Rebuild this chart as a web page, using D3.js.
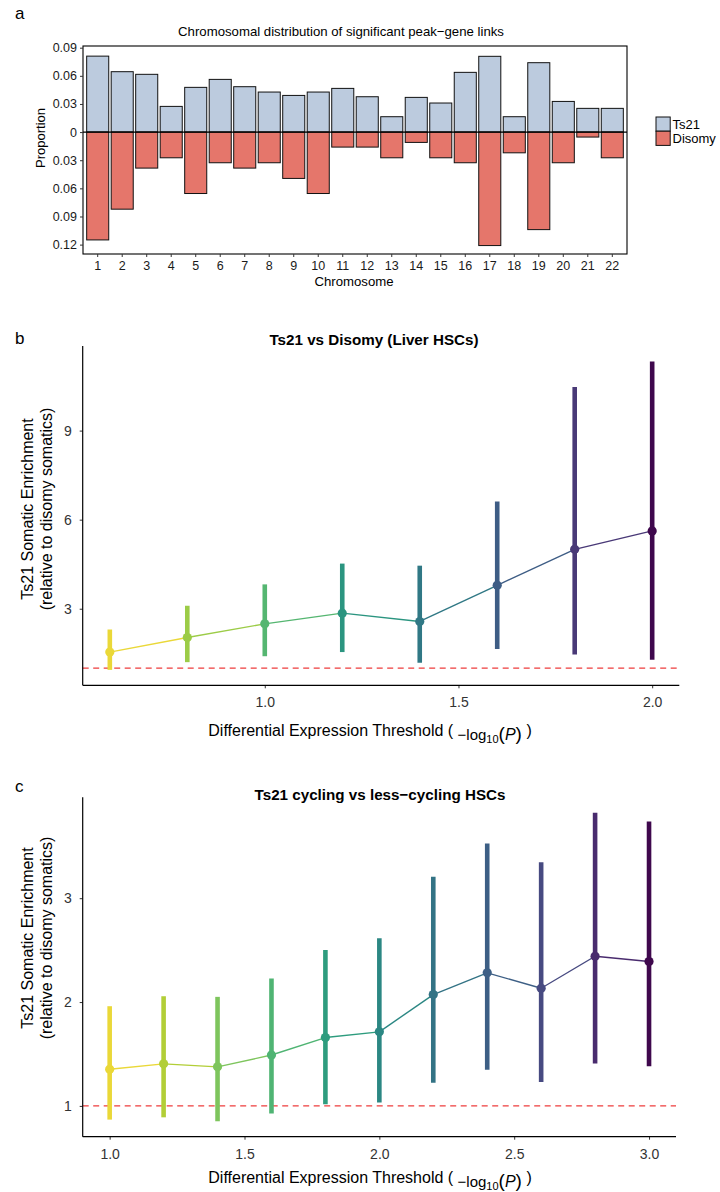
<!DOCTYPE html>
<html>
<head>
<meta charset="utf-8">
<script src="https://cdn.jsdelivr.net/npm/d3@7"></script>
<style>
  body { margin: 0; background: #fff; }
  svg { display: block; font-family: "Liberation Sans", Arial, Helvetica, sans-serif; }
</style>
</head>
<body>
<div id="wrapper"></div>
<script>
// a. chromosomal distribution of peak-gene links
const chromosomes = ["1", "2", "3", "4", "5", "6", "7", "8", "9", "10", "11",
                     "12", "13", "14", "15", "16", "17", "18", "19", "20", "21", "22"]
const ts21Prop = [0.081, 0.0644, 0.0616, 0.0274, 0.0477, 0.0562, 0.0484, 0.0427, 0.0391, 0.0427, 0.0466,
                  0.0377, 0.0164, 0.037, 0.031, 0.0637, 0.0808, 0.0164, 0.074, 0.0327, 0.0253, 0.0253]
const disomyProp = [0.115, 0.0822, 0.0384, 0.0274, 0.0655, 0.0327, 0.0384, 0.0327, 0.0494, 0.0655, 0.016,
                    0.016, 0.0274, 0.011, 0.0274, 0.0327, 0.121, 0.0221, 0.104, 0.0327, 0.0053, 0.0274]
const proportionTicks = [-0.12, -0.09, -0.06, -0.03, 0, 0.03, 0.06, 0.09]
const legendLabels = ["Ts21", "Disomy"]
const legendColors = ["#bccbde", "#e5766b"]

// b. Ts21 vs Disomy (Liver HSCs)
const thresholdsLiver = [0.6, 0.8, 1.0, 1.2, 1.4, 1.6, 1.8, 2.0]
const enrichLiver = [1.54, 2.03, 2.49, 2.85, 2.57, 3.79, 5.0, 5.62]
const lowerLiver = [0.94, 1.20, 1.40, 1.54, 1.18, 1.64, 1.46, 1.28]
const upperLiver = [2.30, 3.10, 3.82, 4.52, 4.45, 6.61, 10.47, 11.33]
const xTicksLiver = [1.0, 1.5, 2.0]
const yTicksLiver = [3, 6, 9]

// c. Ts21 cycling vs less-cycling HSCs
const thresholdsCycling = [1.0, 1.2, 1.4, 1.6, 1.8, 2.0, 2.2, 2.4, 2.6, 2.8, 3.0]
const enrichCycling = [1.353, 1.405, 1.376, 1.49, 1.658, 1.713, 2.072, 2.281, 2.133, 2.441, 2.39]
const lowerCycling = [0.868, 0.89, 0.852, 0.926, 1.015, 1.032, 1.222, 1.347, 1.231, 1.408, 1.381]
const upperCycling = [1.96, 2.056, 2.05, 2.226, 2.5, 2.615, 3.206, 3.527, 3.347, 3.823, 3.739]
const xTicksCycling = [1.0, 1.5, 2.0, 2.5, 3.0]
const yTicksCycling = [1, 2, 3]

const svg = d3.select("#wrapper")
  .append("svg")
  .attr("width", 720)
  .attr("height", 1192)

// ---------- panel a ----------
const aBox = { left: 83, right: 627, top: 46, bottom: 254 }

const xBand = d3.scaleBand()
  .domain(chromosomes)
  .range([aBox.left, aBox.right])
  .paddingInner(0.1)
  .paddingOuter(0.15)

const yProp = d3.scaleLinear()
  .domain([-0.130, 0.0918])
  .range([aBox.bottom, aBox.top])

const panelA = svg.append("g")

panelA.selectAll(".bar-ts21")
  .data(ts21Prop)
  .join("rect")
    .attr("class", "bar-ts21")
    .attr("x", (d, i) => xBand(chromosomes[i]))
    .attr("width", xBand.bandwidth())
    .attr("y", d => yProp(d))
    .attr("height", d => yProp(0) - yProp(d))
    .attr("fill", legendColors[0])
    .attr("stroke", "#111")
    .attr("stroke-width", 1)

panelA.selectAll(".bar-disomy")
  .data(disomyProp)
  .join("rect")
    .attr("class", "bar-disomy")
    .attr("x", (d, i) => xBand(chromosomes[i]))
    .attr("width", xBand.bandwidth())
    .attr("y", yProp(0))
    .attr("height", d => yProp(-d) - yProp(0))
    .attr("fill", legendColors[1])
    .attr("stroke", "#111")
    .attr("stroke-width", 1)

panelA.append("line")
  .attr("x1", aBox.left).attr("x2", aBox.right)
  .attr("y1", yProp(0)).attr("y2", yProp(0))
  .attr("stroke", "#000")
  .attr("stroke-width", 1.3)

panelA.append("rect")
  .attr("x", aBox.left).attr("y", aBox.top)
  .attr("width", aBox.right - aBox.left)
  .attr("height", aBox.bottom - aBox.top)
  .attr("fill", "none")
  .attr("stroke", "#000")
  .attr("stroke-width", 1.1)

const yAxisA = panelA.append("g")
  .attr("transform", `translate(${aBox.left},0)`)
  .call(d3.axisLeft(yProp)
    .tickValues(proportionTicks)
    .tickSize(3)
    .tickPadding(3)
    .tickFormat(d => d === 0 ? "0" : d3.format(".2f")(Math.abs(d))))
const xAxisA = panelA.append("g")
  .attr("transform", `translate(0,${aBox.bottom})`)
  .call(d3.axisBottom(xBand).tickSize(3).tickPadding(4))

;[yAxisA, xAxisA].forEach(ax => {
  ax.select(".domain").remove()
  ax.selectAll("text").attr("font-size", 12.5).attr("fill", "#1a1a1a").attr("font-family", null)
  ax.selectAll("line").attr("stroke", "#333")
})

panelA.append("text")
  .attr("x", 341).attr("y", 36)
  .attr("text-anchor", "middle")
  .attr("font-size", 13.2)
  .text("Chromosomal distribution of significant peak\u2212gene links")

panelA.append("text")
  .attr("x", 354).attr("y", 286)
  .attr("text-anchor", "middle")
  .attr("font-size", 13.2)
  .text("Chromosome")

panelA.append("text")
  .attr("transform", "translate(45,138) rotate(-90)")
  .attr("text-anchor", "middle")
  .attr("font-size", 13)
  .text("Proportion")

const legend = panelA.append("g").attr("transform", "translate(656,117)")
legend.selectAll("rect")
  .data(legendLabels)
  .join("rect")
    .attr("x", 0)
    .attr("y", (d, i) => i * 14.2)
    .attr("width", 14.2)
    .attr("height", 14.2)
    .attr("fill", (d, i) => legendColors[i])
    .attr("stroke", "#111")
    .attr("stroke-width", 1)
legend.selectAll("text")
  .data(legendLabels)
  .join("text")
    .attr("x", 16.5)
    .attr("y", (d, i) => i * 14.2 + 12)
    .attr("font-size", 13)
    .text(d => d)

svg.append("text").attr("x", 15).attr("y", 19).attr("font-size", 17).text("a")

// ---------- panels b and c ----------
const muted = c => {
  const h = d3.hsl(c)
  h.s *= 0.82
  return h.formatHex()
}

function drawEnrichment(cfg) {
  const { box, thresholds, enrich, lower, upper } = cfg
  const g = svg.append("g")

  const xPad = (d3.max(thresholds) - d3.min(thresholds)) * 0.05
  const xScale = d3.scaleLinear()
    .domain([d3.min(thresholds) - xPad, d3.max(thresholds) + xPad])
    .range([box.left, box.right])

  const yMin = d3.min(lower), yMax = d3.max(upper)
  const yPad = (yMax - yMin) * 0.05
  const yScale = d3.scaleLinear()
    .domain([yMin - yPad, yMax + yPad])
    .range([box.bottom, box.top])

  const colorScale = d3.scaleSequential(t => muted(d3.interpolateViridis(t)))
    .domain([d3.max(thresholds), d3.min(thresholds)])

  // reference line at 1
  g.append("line")
    .attr("x1", box.left).attr("x2", box.right)
    .attr("y1", yScale(1)).attr("y2", yScale(1))
    .attr("stroke", "#ee3d3d")
    .attr("stroke-width", 1.2)
    .attr("stroke-dasharray", "6,4.5")

  // connecting line, each segment in the colour of its start point
  const segments = d3.pairs(thresholds.map((t, i) => ({ t, v: enrich[i] })))
  const lineGen = d3.line().x(d => xScale(d.t)).y(d => yScale(d.v))
  g.selectAll(".seg")
    .data(segments)
    .join("path")
      .attr("class", "seg")
      .attr("d", d => lineGen(d))
      .attr("fill", "none")
      .attr("stroke", d => colorScale(d[0].t))
      .attr("stroke-width", 1.4)

  g.selectAll(".errbar")
    .data(thresholds)
    .join("line")
      .attr("class", "errbar")
      .attr("x1", d => xScale(d)).attr("x2", d => xScale(d))
      .attr("y1", (d, i) => yScale(lower[i]))
      .attr("y2", (d, i) => yScale(upper[i]))
      .attr("stroke", d => colorScale(d))
      .attr("stroke-width", 4.6)

  g.selectAll(".pt")
    .data(thresholds)
    .join("circle")
      .attr("class", "pt")
      .attr("cx", d => xScale(d))
      .attr("cy", (d, i) => yScale(enrich[i]))
      .attr("r", 4.6)
      .attr("fill", d => colorScale(d))

  // axes
  const yAxis = g.append("g")
    .attr("transform", `translate(${box.left},0)`)
    .call(d3.axisLeft(yScale).tickValues(cfg.yTicks).tickSize(3).tickPadding(8).tickFormat(d3.format("d")))
  const xAxis = g.append("g")
    .attr("transform", `translate(0,${box.bottom})`)
    .call(d3.axisBottom(xScale).tickValues(cfg.xTicks).tickSize(3).tickPadding(9).tickFormat(d3.format(".1f")))

  ;[yAxis, xAxis].forEach(ax => {
    ax.select(".domain").remove()
    ax.selectAll("text").attr("font-size", 14).attr("fill", "#333").attr("font-family", null)
    ax.selectAll("line").attr("stroke", "#333")
  })

  g.append("line")
    .attr("x1", box.left).attr("x2", box.left)
    .attr("y1", box.top).attr("y2", box.bottom)
    .attr("stroke", "#000").attr("stroke-width", 1.2)
  g.append("line")
    .attr("x1", box.left).attr("x2", box.right)
    .attr("y1", box.bottom).attr("y2", box.bottom)
    .attr("stroke", "#000").attr("stroke-width", 1.2)

  // titles
  g.append("text")
    .attr("x", cfg.titleX).attr("y", cfg.titleY)
    .attr("text-anchor", "middle")
    .attr("font-size", 15.2)
    .attr("font-weight", "bold")
    .text(cfg.title)

  svg.append("text")
    .attr("x", 15).attr("y", cfg.letterY)
    .attr("font-size", 17)
    .text(cfg.letter)

  const yTitle = g.append("text")
    .attr("transform", `translate(0,${cfg.yTitleCenter}) rotate(-90)`)
    .attr("text-anchor", "middle")
    .attr("font-size", 16)
  yTitle.append("tspan").attr("x", 0).attr("y", 33).text("Ts21 Somatic Enrichment")
  yTitle.append("tspan").attr("x", 0).attr("y", 51.5).text("(relative to disomy somatics)")

  const xTitle = g.append("text")
    .attr("x", 370).attr("y", cfg.xTitleY)
    .attr("text-anchor", "middle")
    .attr("font-size", 16)
  xTitle.append("tspan").text("Differential Expression Threshold ( ")
  xTitle.append("tspan").attr("dy", 4).attr("font-size", 15).text("\u2212log")
  xTitle.append("tspan").attr("dy", 3).attr("font-size", 11).text("10")
  xTitle.append("tspan").attr("dy", -3).attr("font-size", 19).text("(")
  xTitle.append("tspan").attr("font-style", "italic").text("P")
  xTitle.append("tspan").attr("font-size", 19).text(")")
  xTitle.append("tspan").attr("dy", -4).text(" )")
}

drawEnrichment({
  box: { left: 82.7, right: 679.3, top: 346, bottom: 685.3 },
  thresholds: thresholdsLiver,
  enrich: enrichLiver,
  lower: lowerLiver,
  upper: upperLiver,
  xTicks: xTicksLiver,
  yTicks: yTicksLiver,
  title: "Ts21 vs Disomy (Liver HSCs)",
  titleX: 374, titleY: 345,
  letter: "b", letterY: 344,
  yTitleCenter: 509,
  xTitleY: 736
})

drawEnrichment({
  box: { left: 82.7, right: 676, top: 797.3, bottom: 1136.7 },
  thresholds: thresholdsCycling,
  enrich: enrichCycling,
  lower: lowerCycling,
  upper: upperCycling,
  xTicks: xTicksCycling,
  yTicks: yTicksCycling,
  title: "Ts21 cycling vs less\u2212cycling HSCs",
  titleX: 380, titleY: 800,
  letter: "c", letterY: 792,
  yTitleCenter: 938,
  xTitleY: 1183
})
</script>
</body>
</html>
